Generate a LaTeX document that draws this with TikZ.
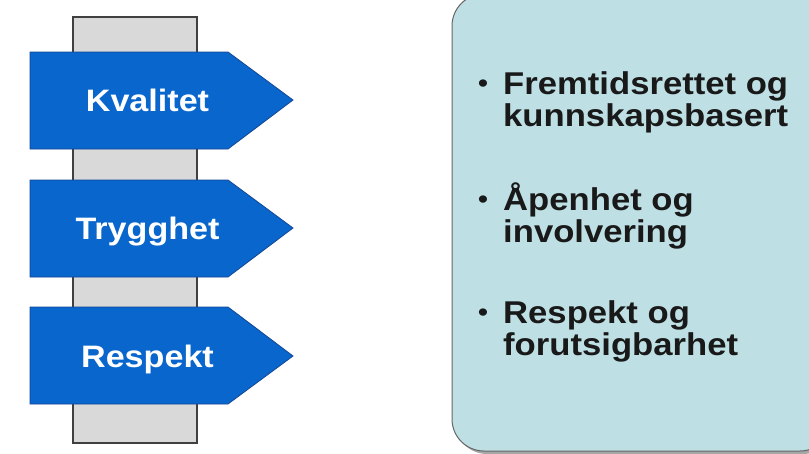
\documentclass[tikz,border=0pt]{standalone}
\usepackage{fontspec}
\setmainfont{Liberation Sans}[FakeStretch=1.1]
\definecolor{signblue}{RGB}{8,102,204}
\definecolor{signedge}{RGB}{20,70,150}
\definecolor{postgray}{RGB}{217,217,217}
\definecolor{panelfill}{RGB}{190,224,228}
\begin{document}
\begin{tikzpicture}[x=1pt,y=-1pt,
  post/.style={fill=postgray,draw=black!75,line width=1.2pt},
  sign/.style={fill=signblue,draw=signedge,line width=0.8pt},
  signtext/.style={text=white,font=\fontsize{31}{32}\selectfont\bfseries,inner sep=0pt,anchor=base},
  itemtext/.style={text=black!90,font=\fontsize{31.5}{32}\selectfont\bfseries,inner sep=0pt,anchor=base west},
  bulletmark/.style={text=black!90,font=\fontsize{27}{28}\selectfont,inner sep=0pt,anchor=base}]
\useasboundingbox (0,0) rectangle (809,453);
\clip (0,0) rectangle (809,453);
\fill[white] (0,0) rectangle (809,453);

% signpost pole
\draw[post] (73,17) rectangle (197,443);

% three pointed signs
\draw[sign] (30,52) -- (228,52) -- (293,100) -- (228,149) -- (30,149) -- cycle;
\draw[sign] (30,180) -- (228,180) -- (293,228) -- (228,277) -- (30,277) -- cycle;
\draw[sign] (30,307) -- (228,307) -- (293,356) -- (228,404) -- (30,404) -- cycle;
\node[signtext] (kval) at (147.5,111) {Kvalitet};
\node[signtext] (tryg) at (147.5,239) {Trygghet};
\node[signtext] (resp) at (147.5,367) {Respekt};

% values panel
\fill[black!35,rounded corners=32] (455,-3) rectangle (835,454);
\draw[fill=panelfill,draw=black!60,line width=1pt,rounded corners=32] (452,-6) rectangle (832,451);

\node[bulletmark] (b1) at (483,92) {•};
\node[itemtext] (i1a) at (503,94) {Fremtidsrettet og};
\node[itemtext] (i1b) at (503,126) {kunnskapsbasert};

\node[bulletmark] (b2) at (483,208) {•};
\node[itemtext] (i2a) at (503,210) {Åpenhet og};
\node[itemtext] (i2b) at (503,242) {involvering};

\node[bulletmark] (b3) at (483,321) {•};
\node[itemtext] (i3a) at (503,323) {Respekt og};
\node[itemtext] (i3b) at (503,355) {forutsigbarhet};
\end{tikzpicture}
\end{document}
